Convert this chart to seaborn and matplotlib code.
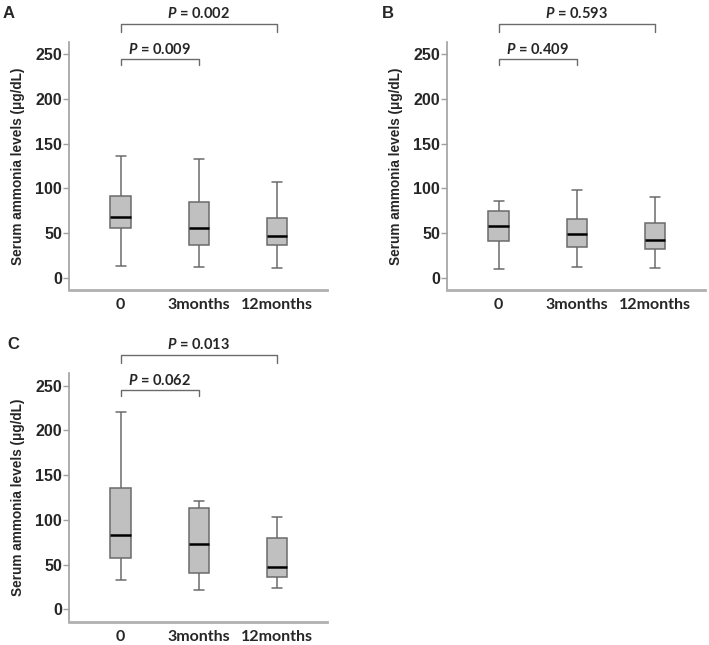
import matplotlib
matplotlib.use('Agg')  # no display in the sandbox
import matplotlib.pyplot as plt
import seaborn as sns
import pandas as pd

# categories on the x axis
groups = ['0', '3months', '12months']

# five-number summaries: min, Q1, median, Q3, max
a_base = [13, 55, 68, 91, 136]
a_3m = [12, 36, 55, 85, 133]
a_12m = [11, 36, 47, 67, 107]

b_base = [10, 41, 58, 75, 86]
b_3m = [12, 34, 49, 66, 98]
b_12m = [11, 32.5, 42.5, 61, 90]

c_base = [33, 58, 83, 136, 220]
c_3m = [22, 41, 73, 113, 121]
c_12m = [24, 36, 47.5, 80, 103]

# p values: 0 vs 3months, 0 vs 12months
p_a = ['0.009', '0.002']
p_b = ['0.409', '0.593']
p_c = ['0.062', '0.013']

sns.set_style('ticks')
plt.rcParams['font.family'] = ['Liberation Sans', 'DejaVu Sans']
plt.rcParams['mathtext.fontset'] = 'custom'
plt.rcParams['mathtext.it'] = 'Lato:italic:bold'
plt.rcParams['mathtext.rm'] = 'Lato:bold'

W, H = 709, 645
fig = plt.figure(figsize=(W / 100, H / 100), dpi=100)


def px_axes(left, top, right, bottom):
    return fig.add_axes([left / W, 1 - bottom / H, (right - left) / W, (bottom - top) / H])


def draw_panel(ax, base, m3, m12, pvals):
    df = pd.DataFrame({
        'group': [groups[0]] * len(base) + [groups[1]] * len(m3) + [groups[2]] * len(m12),
        'value': base + m3 + m12,
    })
    sns.boxplot(
        data=df, x='group', y='value', order=groups, ax=ax,
        color='#c0c0c0', saturation=1, width=0.26, whis=(0, 100),
        showfliers=False, linecolor='#6b6b6b', linewidth=1.1,
        medianprops=dict(color='black', linewidth=1.8),
    )
    ax.set_xlim(-0.66, 2.64)
    ax.set_ylim(-14, 264)
    ax.set_yticks([0, 50, 100, 150, 200, 250])
    ax.set_xlabel('')
    ax.set_ylabel('Serum ammonia levels (μg/dL)', fontsize=9.8, fontweight='bold', labelpad=7)
    for sp in ['top', 'right']:
        ax.spines[sp].set_visible(False)
    ax.spines['left'].set_color('#a0a0a0')
    ax.spines['left'].set_linewidth(1.2)
    ax.spines['bottom'].set_color('#b0b0b0')
    ax.spines['bottom'].set_linewidth(2)
    ax.tick_params(axis='y', length=4, width=1, color='#a0a0a0', pad=1, labelsize=11.5)
    ax.tick_params(axis='x', length=0, pad=6)
    for lab in ax.get_yticklabels():
        lab.set_fontweight('bold')
    for lab in ax.get_xticklabels():
        lab.set_fontfamily('Lato')
        lab.set_fontweight('bold')
        lab.set_fontsize(11.5)

    # significance brackets
    bc = '#6b6b6b'
    ax.plot([0, 0, 1, 1], [238, 245, 245, 238], color=bc, lw=1, clip_on=False)
    ax.text(0.5, 251, f'$P$ = {pvals[0]}', ha='center', va='baseline',
            fontsize=10.5, fontfamily='Lato', fontweight='bold', clip_on=False)
    ax.plot([0, 0, 2, 2], [275, 284, 284, 275], color=bc, lw=1, clip_on=False)
    ax.text(1, 291, f'$P$ = {pvals[1]}', ha='center', va='baseline',
            fontsize=10.5, fontfamily='Lato', fontweight='bold', clip_on=False)


ax_a = px_axes(69, 42, 327, 290)
draw_panel(ax_a, a_base, a_3m, a_12m, p_a)
ax_b = px_axes(447, 42, 705, 290)
draw_panel(ax_b, b_base, b_3m, b_12m, p_b)
ax_c = px_axes(69, 373, 327, 622)
draw_panel(ax_c, c_base, c_3m, c_12m, p_c)

for lbl, x, y in [('A', 3, 6), ('B', 382, 6), ('C', 7, 337)]:
    fig.text(x / W, 1 - y / H, lbl, fontsize=12, fontweight='bold', ha='left', va='top')

fig.savefig('out.png', dpi=100, facecolor='white')
